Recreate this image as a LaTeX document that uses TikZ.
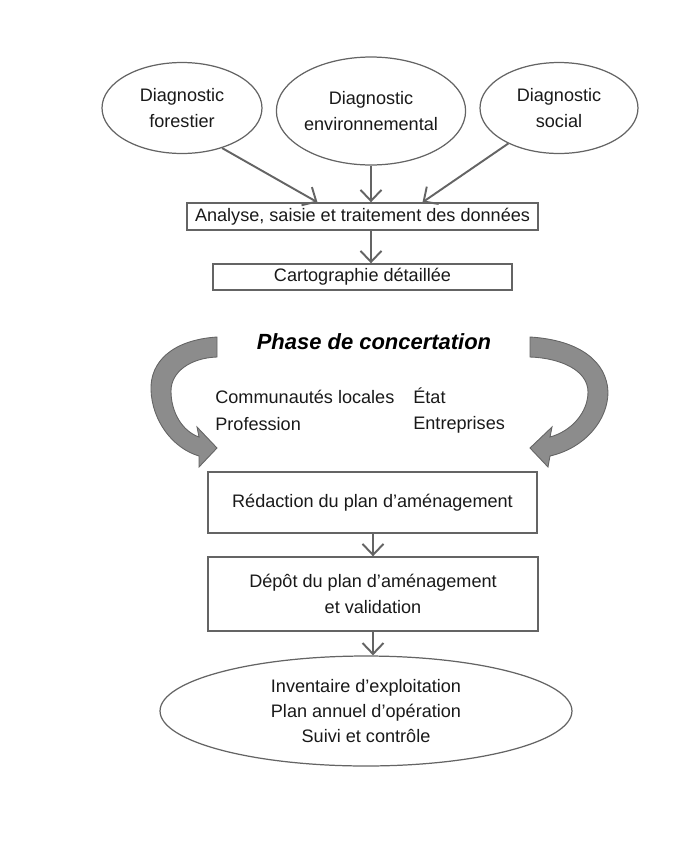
\documentclass[tikz,border=0pt]{standalone}
\usepackage{fontspec}
\setmainfont{Liberation Sans}
\definecolor{linegray}{RGB}{100,100,100}
\definecolor{bandgray}{RGB}{140,140,140}
\usetikzlibrary{arrows.meta, positioning, shapes.geometric, calc}

\begin{document}
\begin{tikzpicture}[x=0.02cm, y=-0.02cm,
  txt/.style={font=\fontsize{10.3}{15.2}\selectfont, text=black!90, align=center},
  diag/.style={ellipse, draw=linegray, line width=0.7pt, inner sep=0pt, txt},
  box/.style={draw=linegray, line width=0.8pt, inner sep=0pt, txt},
  arr/.style={-{Straight Barb[length=2.2mm, width=4.2mm]}, linegray, line width=1.1pt},
  band/.style={fill=bandgray, draw=linegray, line width=0.5pt},
]
  \useasboundingbox (0,0) rectangle (700,853);

  % Diagnostics
  \node[diag, minimum width=3.2cm, minimum height=1.82cm] (forest) at (182,108) {Diagnostic\\forestier};
  \node[diag, minimum width=3.44cm, minimum height=2.16cm] (env) at (371,111) {Diagnostic\\environnemental};
  \node[diag, minimum width=3.16cm, minimum height=1.82cm] (social) at (559,108) {Diagnostic\\social};

  \node[box, minimum width=7.02cm, minimum height=0.54cm] (analyse) at (362.5,216.5) {Analyse, saisie et traitement des données};
  \node[box, minimum width=5.98cm, minimum height=0.52cm] (carto) at (362.5,277) {Cartographie détaillée};

  \draw[arr] (forest.-45) -- ($(analyse.north)+(-45,0)$);
  \draw[arr] (env.south) -- (env.south |- analyse.north);
  \draw[arr] (social.-145) -- ($(analyse.north)+(60,0)$);
  \draw[arr] (analyse.south -| env) -- (carto.north -| env);

  % Concertation
  \node[font=\fontsize{12.5}{15}\selectfont\bfseries\itshape] (phase) at (374,342) {Phase de concertation};
  \node[txt, align=left, anchor=north west, inner sep=0pt] (acteursg) at (215,390) {Communautés locales\\Profession};
  \node[txt, align=left, anchor=north west, inner sep=0pt] (acteursd) at (413,387) {État\\Entreprises};

  \draw[band] (217,337) .. controls (172,340) and (150,362) .. (151,390)
    .. controls (152,420) and (172,448) .. (199,456)
    -- (199,467) -- (217,448) -- (197,427) -- (199,437)
    .. controls (182,431) and (171,412) .. (171,391)
    .. controls (171,372) and (190,358) .. (217,357) -- cycle;
  \draw[band] (530,337) .. controls (580,340) and (607,362) .. (608,392)
    .. controls (608,420) and (585,448) .. (550,456)
    -- (548,467) -- (530,448) -- (552,427) -- (550,437)
    .. controls (572,431) and (588,412) .. (588,392)
    .. controls (588,370) and (560,358) .. (530,357) -- cycle;

  % Plan
  \node[box, minimum width=6.58cm, minimum height=1.22cm] (redaction) at (372.5,502.5) {Rédaction du plan d’aménagement};
  \node[box, minimum width=6.6cm, minimum height=1.48cm] (depot) at (373,594) {Dépôt du plan d’aménagement\\et validation};
  \node[diag, minimum width=8.24cm, minimum height=2.2cm, font=\fontsize{10.3}{14.4}\selectfont] (suivi) at (366,711) {Inventaire d’exploitation\\Plan annuel d’opération\\Suivi et contrôle};

  \draw[arr] (redaction.south -| depot) -- (depot.north);
  \draw[arr] (depot.south) -- (depot.south |- suivi.north);
\end{tikzpicture}
\end{document}
